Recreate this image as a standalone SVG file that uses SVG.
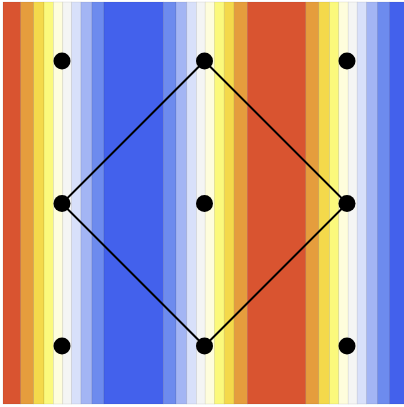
<svg xmlns="http://www.w3.org/2000/svg" width="404" height="407" viewBox="0 0 404 407">
<style>
.r{fill:#D95430}.o{fill:#E59D3D}.y{fill:#F4D94B}.ly{fill:#FBF97C}.c{fill:#FEFDDC}.w{fill:#F4F5F4}.lb0{fill:#D8E0FA}.lb{fill:#A3B5F4}.mb{fill:#6D8BEE}.b{fill:#4361EC}
.s rect{stroke:#000;stroke-opacity:0.12;stroke-width:0.6}
.dot{fill:#000}
</style>
<rect width="404" height="407" fill="#fff"/>
<g class="s" id="stripes">
<rect class="r" x="3" y="2" width="17.7" height="402"/>
<rect class="o" x="20.7" y="2" width="13" height="402"/>
<rect class="y" x="33.7" y="2" width="10.3" height="402"/>
<rect class="ly" x="44" y="2" width="9.5" height="402"/>
<rect class="c" x="53.5" y="2" width="9.3" height="402"/>
<rect class="w" x="62.8" y="2" width="8.9" height="402"/>
<rect class="lb0" x="71.7" y="2" width="9.3" height="402"/>
<rect class="lb" x="81" y="2" width="11" height="402"/>
<rect class="mb" x="92" y="2" width="12" height="402"/>
<rect class="b" x="104" y="2" width="59.6" height="402"/>
<rect class="mb" x="163.6" y="2" width="12.4" height="402"/>
<rect class="lb" x="176" y="2" width="10.8" height="402"/>
<rect class="lb0" x="186.8" y="2" width="9.7" height="402"/>
<rect class="w" x="196.5" y="2" width="8.7" height="402"/>
<rect class="c" x="205.2" y="2" width="9.2" height="402"/>
<rect class="ly" x="214.4" y="2" width="9.8" height="402"/>
<rect class="y" x="224.2" y="2" width="9.9" height="402"/>
<rect class="o" x="234.1" y="2" width="13.2" height="402"/>
<rect class="r" x="247.3" y="2" width="58.5" height="402"/>
<rect class="o" x="305.8" y="2" width="13" height="402"/>
<rect class="y" x="318.8" y="2" width="10.8" height="402"/>
<rect class="ly" x="329.6" y="2" width="9.2" height="402"/>
<rect class="c" x="338.8" y="2" width="9.4" height="402"/>
<rect class="w" x="348.2" y="2" width="9" height="402"/>
<rect class="lb0" x="357.2" y="2" width="9.3" height="402"/>
<rect class="lb" x="366.5" y="2" width="10.8" height="402"/>
<rect class="mb" x="377.3" y="2" width="12" height="402"/>
<rect class="b" x="389.3" y="2" width="15" height="402"/>
</g>
<g id="connectors">
<polygon points="204.5,61 347,203.5 204.5,346 62,203.5" fill="none" stroke="#000" stroke-width="2" stroke-linejoin="miter"/>
</g>
<g id="n11"><circle class="dot" cx="62" cy="61" r="8.5"/></g>
<g id="n12"><circle class="dot" cx="204.5" cy="61" r="8.5"/></g>
<g id="n13"><circle class="dot" cx="347" cy="61" r="8.5"/></g>
<g id="n21"><circle class="dot" cx="62" cy="203.5" r="8.5"/></g>
<g id="n22"><circle class="dot" cx="204.5" cy="203.5" r="8.5"/></g>
<g id="n23"><circle class="dot" cx="347" cy="203.5" r="8.5"/></g>
<g id="n31"><circle class="dot" cx="62" cy="346" r="8.5"/></g>
<g id="n32"><circle class="dot" cx="204.5" cy="346" r="8.5"/></g>
<g id="n33"><circle class="dot" cx="347" cy="346" r="8.5"/></g>
</svg>
